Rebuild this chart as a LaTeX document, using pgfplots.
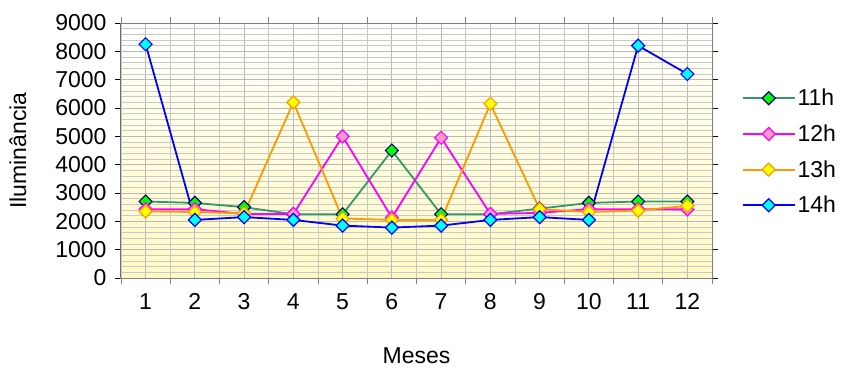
\documentclass[border=0pt]{standalone}
\usepackage{pgfplots}
\pgfplotsset{compat=1.18}
\usepackage{fontspec}
\setmainfont{Liberation Sans}
\definecolor{c11}{RGB}{51,153,102}
\definecolor{f11}{RGB}{0,255,0}
\definecolor{d11}{RGB}{0,0,128}
\definecolor{c12}{RGB}{255,0,255}
\definecolor{f12}{RGB}{255,153,204}
\definecolor{c13}{RGB}{255,153,0}
\definecolor{f13}{RGB}{255,255,0}
\definecolor{c14}{RGB}{0,0,255}
\definecolor{f14}{RGB}{0,255,255}
\definecolor{bgy}{RGB}{255,250,196}
\definecolor{gridc}{RGB}{185,185,185}
\definecolor{gridm}{RGB}{200,200,200}
\begin{document}
\begin{tikzpicture}
\path[use as bounding box] (-121pt,-90pt) rectangle (721pt,278pt);
\begin{axis}[
  at={(0pt,0pt)}, anchor=south west,
  scale only axis, width=591pt, height=255pt,
  xmin=0.5, xmax=12.5, ymin=0, ymax=9000,
  xtick={1,...,12},
  minor xtick={0.5,1.5,...,12.5},
  ytick={0,1000,...,9000},
  minor ytick={0,200,...,9000},
  major x tick style={draw=none},
  minor x tick style={gray, line width=0.8pt},
  minor tick length=6pt,
  major tick length=6pt,
  y tick style={black, line width=0.8pt},
  minor y tick style={draw=none},
  tick align=outside,
  xmajorgrids, xminorgrids, ymajorgrids, yminorgrids,
  major grid style={gridc, line width=0.8pt},
  minor grid style={gridm, line width=0.6pt},
  axis line style={gray, line width=1pt},
  axis background/.style={shade, top color=white, bottom color=bgy, middle color={rgb,255:red,255;green,253;blue,222}},
  /pgf/number format/assume math mode=true,
  /pgf/number format/1000 sep={},
  ticklabel style={font=\fontsize{23}{27}\selectfont},
  xticklabel style={yshift=-6pt},
  yticklabel style={xshift=-5pt},
  label style={font=\fontsize{23}{27}\selectfont},
  xlabel={Meses},
  ylabel={Iluminância},
  xlabel style={yshift=-31pt},
  ylabel style={yshift=22pt},
  legend style={draw=none, fill=none, at={(1.045,0.495)}, anchor=west,
    font=\fontsize{23}{27}\selectfont, row sep=13.5pt},
  legend cell align=left,
  legend image code/.code={\draw[mark repeat=2,mark phase=2] plot coordinates {(0pt,0pt) (26pt,0pt) (52pt,0pt)};},
  every axis plot/.append style={line width=1.8pt},
]
\addplot[c11, mark=square*, mark size=4.6pt, mark options={rotate=45, fill=f11, draw=d11, line width=1.2pt}]
  coordinates {(1,2700) (2,2650) (3,2500) (4,2250) (5,2250) (6,4500) (7,2250) (8,2250) (9,2450) (10,2650) (11,2700) (12,2700)};
\addlegendentry{11h}
\addplot[c12, mark=square*, mark size=4.6pt, mark options={rotate=45, fill=f12, draw=c12, line width=1.2pt}]
  coordinates {(1,2430) (2,2430) (3,2260) (4,2260) (5,5000) (6,2130) (7,4950) (8,2260) (9,2300) (10,2430) (11,2430) (12,2420)};
\addlegendentry{12h}
\addplot[c13, mark=square*, mark size=4.6pt, mark options={rotate=45, fill=f13, draw=c13, line width=1.2pt}]
  coordinates {(1,2350) (2,2330) (3,2280) (4,6200) (5,2100) (6,2050) (7,2050) (8,6150) (9,2430) (10,2330) (11,2380) (12,2550)};
\addlegendentry{13h}
\addplot[c14, mark=square*, mark size=4.6pt, mark options={rotate=45, fill=f14, draw=c14, line width=1.2pt}]
  coordinates {(1,8250) (2,2050) (3,2150) (4,2050) (5,1850) (6,1780) (7,1850) (8,2050) (9,2150) (10,2050) (11,8200) (12,7200)};
\addlegendentry{14h}
\draw[black, line width=1pt] (rel axis cs:0,0) -- (rel axis cs:0,1);
\end{axis}
\end{tikzpicture}
\end{document}
